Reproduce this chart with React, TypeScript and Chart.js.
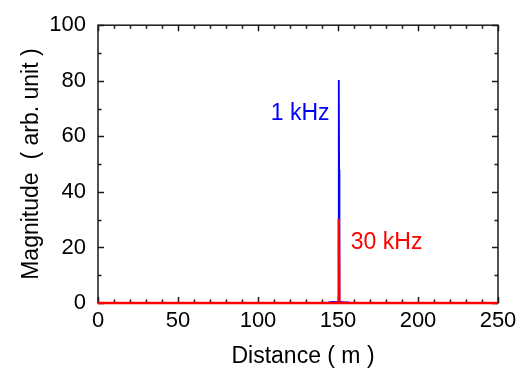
import React, { useEffect, useRef } from "react";
import { Chart, registerables } from "chart.js";

Chart.register(...registerables);

// ---- data ----
const blueDistance = [0, 143, 145, 147, 149, 150.3, 150.5, 150.7, 150.9, 152, 154, 156, 158, 250];
const blueMagnitude = [0, 0, 0.3, 0.4, 0.35, 0.5, 80.3, 48, 0.5, 0.4, 0.3, 0.25, 0, 0];
const redDistance = [0, 150.3, 150.5, 150.8, 250];
const redMagnitude = [0, 0, 30.3, 0, 0];

const xTicks = [0, 50, 100, 150, 200, 250];
const yTicks = [0, 20, 40, 60, 80, 100];
const xMinorStep = 10;
const yMinorStep = 10;

const xTitle = "Distance ( m )";
const yTitle = "Magnitude  ( arb. unit )";
const blueLabel = "1 kHz";
const redLabel = "30 kHz";
// label anchor positions in data units
const blueLabelAt = { x: 108, y: 66 };
const redLabelAt = { x: 158, y: 19.5 };

const FONT = "'Liberation Sans', Arial, Helvetica, sans-serif";
const BLUE = "#0000ff";
const RED = "#ff0000";
const AXIS = "#1a1a1a";

const framePlugin = {
  id: "frame",
  beforeDatasetsDraw(chart: any) {
    const { ctx, chartArea } = chart;
    const { left, right, top, bottom } = chartArea;
    const xs = chart.scales.x;
    const ys = chart.scales.y;
    ctx.save();
    ctx.strokeStyle = AXIS;
    ctx.lineWidth = 1.5;
    ctx.strokeRect(left, top, right - left, bottom - top);
    ctx.lineWidth = 1.5;
    const major = 6;
    const minor = 3.5;
    for (let v = xs.min; v <= xs.max + 1e-9; v += xMinorStep) {
      const px = Math.round(xs.getPixelForValue(v)) + 0.5;
      const len = xTicks.includes(v) ? major : minor;
      ctx.beginPath();
      ctx.moveTo(px, bottom);
      ctx.lineTo(px, bottom - len);
      ctx.moveTo(px, top);
      ctx.lineTo(px, top + len);
      ctx.stroke();
    }
    for (let v = ys.min; v <= ys.max + 1e-9; v += yMinorStep) {
      const py = Math.round(ys.getPixelForValue(v)) + 0.5;
      const len = yTicks.includes(v) ? major : minor;
      ctx.beginPath();
      ctx.moveTo(left, py);
      ctx.lineTo(left + len, py);
      ctx.moveTo(right, py);
      ctx.lineTo(right - len, py);
      ctx.stroke();
    }
    ctx.restore();
  },
  afterDraw(chart: any) {
    const { ctx, chartArea } = chart;
    const xs = chart.scales.x;
    const ys = chart.scales.y;
    ctx.save();
    ctx.fillStyle = "#000";
    ctx.font = `23px ${FONT}`;
    ctx.textAlign = "center";
    ctx.textBaseline = "alphabetic";
    ctx.fillText(xTitle, (chartArea.left + chartArea.right) / 2 + 5, 363);
    ctx.save();
    ctx.translate(38, (chartArea.top + chartArea.bottom) / 2);
    ctx.rotate(-Math.PI / 2);
    ctx.font = `23px ${FONT}`;
    ctx.fillText(yTitle, 0, 0);
    ctx.restore();
    ctx.textAlign = "left";
    ctx.font = `23px ${FONT}`;
    ctx.fillStyle = BLUE;
    ctx.fillText(blueLabel, xs.getPixelForValue(blueLabelAt.x), ys.getPixelForValue(blueLabelAt.y));
    ctx.fillStyle = RED;
    ctx.fillText(redLabel, xs.getPixelForValue(redLabelAt.x), ys.getPixelForValue(redLabelAt.y));
    ctx.restore();
  },
};

export default function App() {
  const ref = useRef<HTMLCanvasElement | null>(null);
  useEffect(() => {
    if (!ref.current) return;
    const chart = new Chart(ref.current, {
      type: "scatter",
      data: {
        datasets: [
          {
            label: redLabel,
            data: redDistance.map((x, i) => ({ x, y: redMagnitude[i] })),
            showLine: true,
            borderColor: RED,
            borderWidth: 2.5,
            pointRadius: 0,
            clip: false as any,
          },
          {
            label: blueLabel,
            data: blueDistance.map((x, i) => ({ x, y: blueMagnitude[i] })),
            showLine: true,
            borderColor: BLUE,
            borderWidth: 1.8,
            pointRadius: 0,
            clip: false as any,
          },
        ],
      },
      options: {
        responsive: false,
        animation: false,
        devicePixelRatio: 1,
        layout: { padding: { top: 19, right: 24, left: 0, bottom: 0 } },
        plugins: { legend: { display: false }, tooltip: { enabled: false } },
        scales: {
          x: {
            type: "linear",
            min: 0,
            max: 250,
            afterFit: (s: any) => {
              s.height = 66;
            },
            afterBuildTicks: (s: any) => {
              s.ticks = xTicks.map((v) => ({ value: v }));
            },
            grid: { display: false, drawTicks: false },
            border: { display: false },
            ticks: {
              font: { family: FONT, size: 22 },
              color: "#000",
              padding: 5,
              maxRotation: 0,
            },
          },
          y: {
            type: "linear",
            min: 0,
            max: 100,
            afterFit: (s: any) => {
              s.width = 98;
            },
            afterBuildTicks: (s: any) => {
              s.ticks = yTicks.map((v) => ({ value: v }));
            },
            grid: { display: false, drawTicks: false },
            border: { display: false },
            ticks: {
              font: { family: FONT, size: 22 },
              color: "#000",
              padding: 12,
            },
          },
        },
      },
      plugins: [framePlugin],
    });
    return () => chart.destroy();
  }, []);
  return (
    <div style={{ position: "absolute", left: 0, top: 0, width: 522, height: 369, background: "#fff" }}>
      <canvas ref={ref} width={522} height={369} style={{ width: 522, height: 369, display: "block" }} />
    </div>
  );
}
